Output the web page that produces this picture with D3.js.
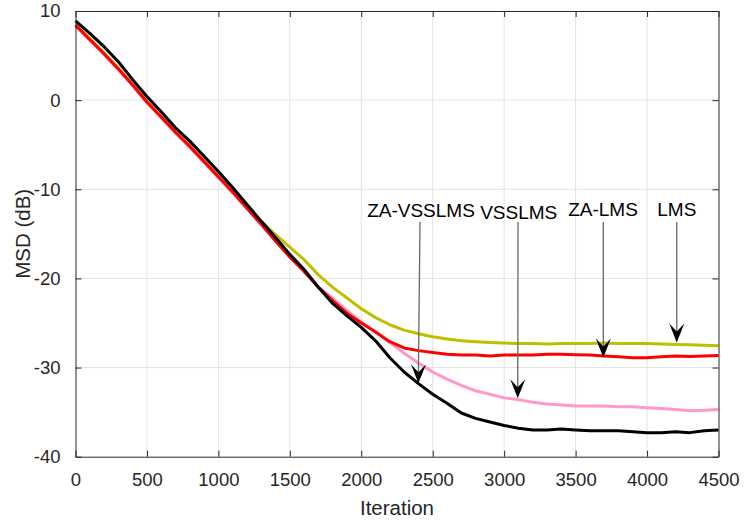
<!DOCTYPE html>
<html>
<head>
<meta charset="utf-8">
<script src="https://cdn.jsdelivr.net/npm/d3@7"></script>
<style>
  body { margin: 0; background: #fff; }
  text { font-family: "Liberation Sans", Arial, Helvetica, sans-serif; }
</style>
</head>
<body>
<script>
// iterations, sampled every 100
var iterations = d3.range(0, 4501, 100);

// MSD curves (dB)
var lms = [8.5, 6.9, 5.3, 3.6, 1.8, -0.1, -1.8, -3.5, -5.1, -6.8, -8.5, -10.2, -11.9, -13.6, -15.1, -16.5,
  -17.9, -19.6, -21.0, -22.2, -23.4, -24.4, -25.2, -25.8, -26.2, -26.55, -26.8, -27.0, -27.1, -27.2,
  -27.25, -27.3, -27.3, -27.35, -27.3, -27.3, -27.3, -27.25, -27.3, -27.3, -27.3, -27.35, -27.4, -27.45, -27.5, -27.55];

var zaLms = [8.4, 6.8, 5.2, 3.5, 1.7, -0.2, -1.9, -3.6, -5.2, -6.9, -8.6, -10.3, -12.1, -13.9, -15.8, -17.6,
  -19.2, -21.0, -22.5, -23.9, -25.0, -26.0, -27.1, -27.8, -28.1, -28.3, -28.5, -28.6, -28.6, -28.7,
  -28.6, -28.6, -28.6, -28.5, -28.5, -28.55, -28.6, -28.7, -28.8, -28.9, -28.9, -28.8, -28.7, -28.75, -28.7, -28.65];

var vsslms = [8.3, 6.7, 5.1, 3.4, 1.6, -0.3, -2.0, -3.7, -5.3, -7.0, -8.7, -10.4, -12.2, -14.0, -15.8, -17.6,
  -19.3, -21.0, -22.2, -23.6, -24.9, -26.0, -27.2, -28.4, -29.5, -30.5, -31.3, -32.0, -32.6, -33.0,
  -33.4, -33.6, -33.9, -34.1, -34.2, -34.3, -34.3, -34.3, -34.4, -34.4, -34.5, -34.6, -34.7, -34.85, -34.8, -34.7];

var zaVsslms = [8.9, 7.5, 6.0, 4.3, 2.3, 0.4, -1.3, -3.1, -4.6, -6.3, -8.0, -9.8, -11.7, -13.6, -15.4, -17.3,
  -19.0, -21.0, -22.8, -24.2, -25.5, -27.0, -28.9, -30.5, -31.8, -33.0, -34.0, -35.1, -35.7, -36.1,
  -36.5, -36.8, -37.0, -37.0, -36.9, -37.0, -37.1, -37.1, -37.1, -37.2, -37.3, -37.3, -37.2, -37.3, -37.1, -37.0];

var seriesNames = ["LMS", "VSSLMS", "ZA-LMS", "ZA-VSSLMS"];
var seriesValues = [lms, vsslms, zaLms, zaVsslms];
var seriesColors = ["#bfbf00", "#ff99cc", "#ff0000", "#000000"];

var xTicks = [0, 500, 1000, 1500, 2000, 2500, 3000, 3500, 4000, 4500];
var yTicks = [10, 0, -10, -20, -30, -40];

// arrow annotations: label, text position, line start, arrow tip (data units)
var notes = [
  {label: "ZA-VSSLMS", tx: 2418, ty: -13.14, x0: 2411, y0: -13.67, x1: 2399, y1: -31.77},
  {label: "VSSLMS",    tx: 3102, ty: -13.37, x0: 3097, y0: -13.67, x1: 3095, y1: -33.45},
  {label: "ZA-LMS",    tx: 3692, ty: -13.0,  x0: 3694, y0: -13.67, x1: 3694, y1: -28.87},
  {label: "LMS",       tx: 4208, ty: -13.0,  x0: 4208, y0: -13.67, x1: 4208, y1: -27.19}
];

var W = 744, H = 523;
var margin = {top: 11, right: 25.5, bottom: 66.3, left: 75.5},
    width = W - margin.left - margin.right,
    height = H - margin.top - margin.bottom;

var svg = d3.select("body").append("svg")
    .attr("width", W)
    .attr("height", H);

var g = svg.append("g")
    .attr("transform", "translate(" + margin.left + "," + margin.top + ")");

var x = d3.scaleLinear().domain([0, 4500]).range([0, width]);
var y = d3.scaleLinear().domain([-40, 10]).range([height, 0]);

var axisColor = "#262626";
var plain = function (d) { return String(d); };

// grid
g.append("g").selectAll("line")
    .data(xTicks.slice(1, -1))
    .enter().append("line")
    .attr("x1", function (d) { return x(d); })
    .attr("x2", function (d) { return x(d); })
    .attr("y1", 0).attr("y2", height)
    .attr("stroke", "#e3e3e3").attr("stroke-width", 1);

g.append("g").selectAll("line")
    .data(yTicks.slice(1, -1))
    .enter().append("line")
    .attr("y1", function (d) { return y(d); })
    .attr("y2", function (d) { return y(d); })
    .attr("x1", 0).attr("x2", width)
    .attr("stroke", "#e3e3e3").attr("stroke-width", 1);

// curves
var line = d3.line()
    .x(function (d, i) { return x(iterations[i]); })
    .y(function (d) { return y(d); });

g.append("g").selectAll("path")
    .data(seriesValues)
    .enter().append("path")
    .attr("d", line)
    .attr("fill", "none")
    .attr("stroke", function (d, i) { return seriesColors[i]; })
    .attr("stroke-width", 3)
    .attr("stroke-linejoin", "round");

// axes (box with inward ticks)
function styleAxis(sel) {
    sel.select(".domain").attr("stroke", axisColor);
    sel.selectAll(".tick line").attr("stroke", axisColor);
    sel.selectAll(".tick text")
        .attr("fill", axisColor)
        .style("font-size", "18.5px")
        .style("font-family", "'Liberation Sans', Arial, sans-serif");
}

g.append("g")
    .attr("transform", "translate(0," + height + ")")
    .call(d3.axisBottom(x).tickValues(xTicks).tickSize(-6).tickSizeOuter(0).tickPadding(16).tickFormat(plain))
    .call(styleAxis);

g.append("g")
    .call(d3.axisTop(x).tickValues(xTicks).tickSize(-6).tickSizeOuter(0).tickFormat(""))
    .call(styleAxis);

g.append("g")
    .call(d3.axisLeft(y).tickValues(yTicks).tickSize(-6).tickSizeOuter(0).tickPadding(15).tickFormat(plain))
    .call(styleAxis);

g.append("g")
    .attr("transform", "translate(" + width + ",0)")
    .call(d3.axisRight(y).tickValues(yTicks).tickSize(-6).tickSizeOuter(0).tickFormat(""))
    .call(styleAxis);

// axis labels
svg.append("text")
    .attr("x", margin.left + width / 2)
    .attr("y", 515)
    .attr("text-anchor", "middle")
    .attr("fill", axisColor)
    .style("font-size", "20.5px")
    .text("Iteration");

svg.append("text")
    .attr("transform", "translate(30," + (margin.top + y(-15)) + ") rotate(-90)")
    .attr("text-anchor", "middle")
    .attr("fill", axisColor)
    .style("font-size", "20.5px")
    .text("MSD (dB)");

// annotations
var ann = g.append("g");
notes.forEach(function (n) {
    ann.append("text")
        .attr("x", x(n.tx))
        .attr("y", y(n.ty))
        .attr("text-anchor", "middle")
        .attr("fill", "#000")
        .style("font-size", "19px")
        .text(n.label);

    var px0 = x(n.x0), py0 = y(n.y0), px1 = x(n.x1), py1 = y(n.y1);
    var ang = Math.atan2(py1 - py0, px1 - px0) * 180 / Math.PI - 90;
    ann.append("line")
        .attr("x1", px0).attr("y1", py0)
        .attr("x2", px1 + (px0 - px1) * 10 / Math.hypot(px1 - px0, py1 - py0))
        .attr("y2", py1 - 10)
        .attr("stroke", "#666")
        .attr("stroke-width", 1.3);
    ann.append("path")
        .attr("transform", "translate(" + px1 + "," + py1 + ") rotate(" + ang + ")")
        .attr("d", "M0,0 L-7.5,-19 L0,-11 L7.5,-19 Z")
        .attr("fill", "#000");
});
</script>
</body>
</html>
